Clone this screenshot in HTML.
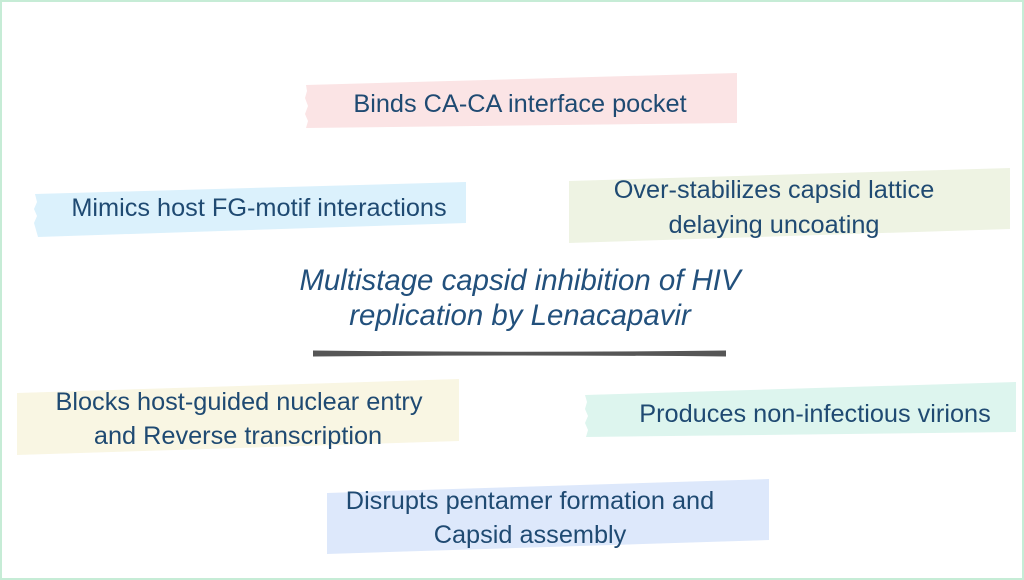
<!DOCTYPE html>
<html>
<head>
<meta charset="utf-8">
<style>
  html, body { margin: 0; padding: 0; background: #ffffff; }
  body { width: 1024px; height: 580px; overflow: hidden; }
  svg { display: block; }
  .t { font-family: "Liberation Sans", Arial, sans-serif; font-size: 25.3px; fill: #1f4a72; }
  .ti { font-family: "Liberation Sans", Arial, sans-serif; font-size: 29.4px; font-style: italic; fill: #22507c; }
</style>
</head>
<body>
<svg width="1024" height="580" viewBox="0 0 1024 580" xmlns="http://www.w3.org/2000/svg">
  <rect x="1" y="1" width="1022" height="578" fill="#ffffff" stroke="#c6ecd6" stroke-width="2"/>

  <!-- pink -->
  <polygon points="306,85 737,73 737,123 306,128 308,121 305,114 308,106 305,98 307,91" fill="#fbe4e5"/>
  <text class="t" x="520" y="112" text-anchor="middle">Binds CA-CA interface pocket</text>

  <!-- blue -->
  <polygon points="35,194 466,182 466,223 38,237 36,230 34,223 37,216 34,209 37,202" fill="#dbf1fc"/>
  <text class="t" x="259" y="216" text-anchor="middle">Mimics host FG-motif interactions</text>

  <!-- green -->
  <polygon points="569,181 1010,168 1010,229 569,243" fill="#eef3e3"/>
  <text class="t" x="774" y="198" text-anchor="middle">Over-stabilizes capsid lattice</text>
  <text class="t" x="774" y="233" text-anchor="middle">delaying uncoating</text>

  <!-- title -->
  <text class="ti" x="520" y="290" text-anchor="middle">Multistage capsid inhibition of HIV</text>
  <text class="ti" x="520" y="325" text-anchor="middle">replication by Lenacapavir</text>
  <path d="M313,350.5 Q520,353 726,350.5 L726,356.5 Q520,354.5 313,356.5 Z" fill="#565656"/>

  <!-- yellow -->
  <polygon points="17,393 459,379 459,441 17,455" fill="#f9f6e3"/>
  <text class="t" x="239" y="410" text-anchor="middle">Blocks host-guided nuclear entry</text>
  <text class="t" x="238" y="444" text-anchor="middle">and Reverse transcription</text>

  <!-- teal -->
  <polygon points="585,395 1016,382 1016,432 586,437 588,430 585,423 588,416 585,409 587,402" fill="#ddf5ee"/>
  <text class="t" x="815" y="422" text-anchor="middle">Produces non-infectious virions</text>

  <!-- lavender -->
  <polygon points="327,493 769,479 769,540 327,554" fill="#dde8fb"/>
  <text class="t" x="530" y="509" text-anchor="middle">Disrupts pentamer formation and</text>
  <text class="t" x="530" y="543" text-anchor="middle">Capsid assembly</text>
</svg>
</body>
</html>
